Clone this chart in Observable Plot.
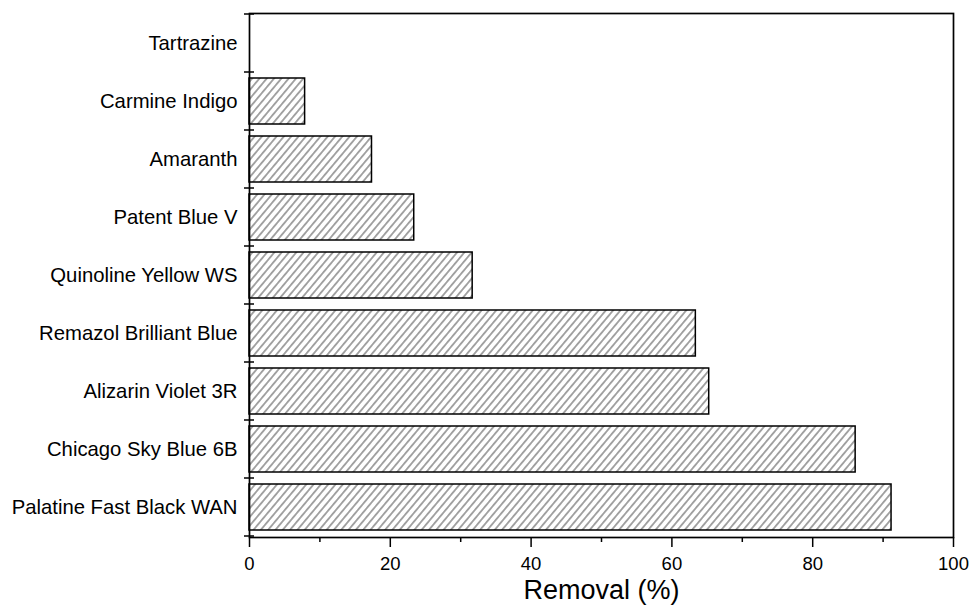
<!DOCTYPE html>
<html><head><meta charset="utf-8">
<script src="https://cdn.jsdelivr.net/npm/d3@7"></script>
<script src="https://cdn.jsdelivr.net/npm/@observablehq/plot@0.6"></script>
<style>body{margin:0;background:#fff;}</style>
</head><body><div id="chart"></div>
<script>
const dyes = ["Tartrazine","Carmine Indigo","Amaranth","Patent Blue V","Quinoline Yellow WS","Remazol Brilliant Blue","Alizarin Violet 3R","Chicago Sky Blue 6B","Palatine Fast Black WAN"];
const removal = [0, 7.9, 17.4, 23.4, 31.7, 63.4, 65.3, 86.1, 91.2];
const majorTicks = [0, 20, 40, 60, 80, 100];
const minorTicks = [10, 30, 50, 70, 90];
const xLabel = "Removal (%)";

const data = dyes.map((d, i) => ({dye: d, removal: removal[i]}));

function boundaryTicks(index, scales, values, dims) {
  const y = scales.y;
  const bw = typeof y.bandwidth === "function" ? y.bandwidth() : y.bandwidth;
  const pos = dyes.map(d => y(d));
  const gap = pos[1] - pos[0] - bw;
  const ys = pos.map(p => p - gap / 2);
  ys.push(pos[pos.length - 1] + bw + gap / 2);
  const g = d3.create("svg:g").attr("stroke", "black").attr("stroke-width", 1.5);
  for (const v of ys) {
    g.append("line").attr("x1", dims.marginLeft - 5).attr("x2", dims.marginLeft + 5).attr("y1", v).attr("y2", v);
  }
  return g.node();
}

const svg = Plot.plot({
  width: 969,
  height: 606,
  marginLeft: 249,
  marginRight: 16,
  marginTop: 13,
  marginBottom: 69,
  style: {fontFamily: "'Liberation Sans', Arial, sans-serif", fontSize: "18px", color: "black", background: "white"},
  x: {domain: [0, 100]},
  y: {domain: dyes, paddingInner: 0.2, paddingOuter: 0.1},
  marks: [
    Plot.barX(data.filter(d => d.removal > 0), {x: "removal", y: "dye", fill: "url(#hatch)", stroke: "black", strokeWidth: 1.5}),
    Plot.frame({stroke: "black", strokeWidth: 1.7}),
    Plot.axisY({tickSize: 0, tickPadding: 12, fontSize: 20.3, label: null}),
    Plot.axisX({ticks: majorTicks, tickSize: 10, tickPadding: 9, fontSize: 18.5, label: null, strokeWidth: 1.5}),
    Plot.axisX({ticks: minorTicks, tickSize: 5, tickFormat: () => "", label: null, strokeWidth: 1.5}),
    Plot.text([xLabel], {frameAnchor: "bottom", dy: 61, fontSize: 27}),
    boundaryTicks
  ]
});

const defs = d3.select(svg).insert("defs", ":first-child");
const pat = defs.append("pattern").attr("id", "hatch").attr("patternUnits", "userSpaceOnUse")
  .attr("width", 5.6).attr("height", 10).attr("patternTransform", "rotate(40)");
pat.append("rect").attr("width", 5.6).attr("height", 10).attr("fill", "white");
pat.append("line").attr("x1", 2.8).attr("y1", 0).attr("x2", 2.8).attr("y2", 10).attr("stroke", "#333").attr("stroke-width", 0.9);

document.getElementById("chart").appendChild(svg);
</script>
</body></html>
